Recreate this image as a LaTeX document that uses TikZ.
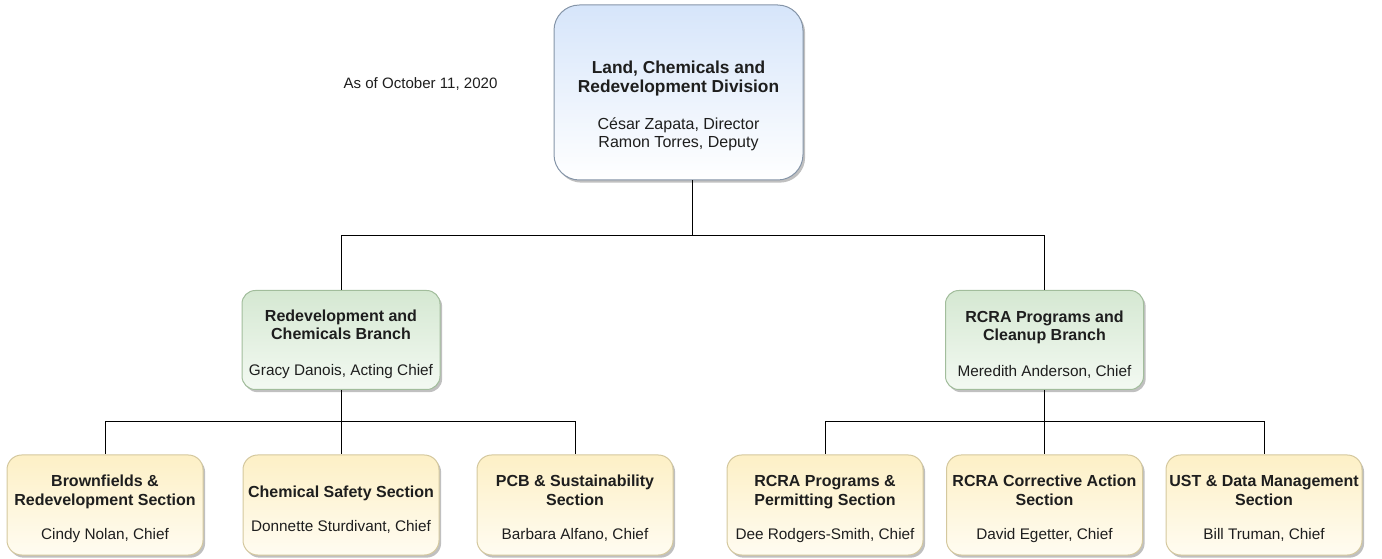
\documentclass[tikz,border=0pt]{standalone}
\usepackage{fontspec}
\setmainfont{Liberation Sans}
\usetikzlibrary{shadows}
\definecolor{divtop}{HTML}{D6E5FA}
\definecolor{divbot}{HTML}{FFFFFF}
\definecolor{divline}{HTML}{8595A8}
\definecolor{brtop}{HTML}{D5E8D2}
\definecolor{brbot}{HTML}{F3F9F2}
\definecolor{brline}{HTML}{A2BD9C}
\definecolor{sctop}{HTML}{FDF0C6}
\definecolor{scbot}{HTML}{FFFCF1}
\definecolor{scline}{HTML}{D4C89E}
\definecolor{ink}{HTML}{1E1E1E}
\newcommand{\divtitle}{\fontsize{13}{14.25}\selectfont\bfseries}
\newcommand{\divname}{\fontsize{12}{14.25}\selectfont\mdseries}
\newcommand{\unittitle}{\fontsize{12}{14.25}\selectfont\bfseries}
\newcommand{\unitname}{\fontsize{11.5}{14.25}\selectfont\mdseries}
\begin{document}
\begin{tikzpicture}[x=0.75pt,y=-0.75pt,
  card/.style={draw, line width=0.75pt, align=center, inner sep=0pt, text=ink,
    font=\fontsize{12}{14.25}\selectfont,
    drop shadow={shadow xshift=1.6pt, shadow yshift=-2pt, fill=black!45, opacity=0.55}},
  division/.style={card, rounded corners=19pt, draw=divline, top color=divtop, bottom color=divbot,
    minimum width=186.75pt, minimum height=131.25pt},
  branch/.style={card, rounded corners=10pt, draw=brline, top color=brtop, bottom color=brbot,
    minimum width=148.5pt, minimum height=74.25pt},
  section/.style={card, rounded corners=11pt, draw=scline, top color=sctop, bottom color=scbot,
    minimum width=147pt, minimum height=75pt},
  link/.style={draw=black, line width=0.75pt},
]
\useasboundingbox (0,0) rectangle (1382,559);

% date stamp
\node[font=\fontsize{11.3}{13}\selectfont, text=ink] (date) at (420.5,84) {As of October 11, 2020};

% division
\node[division] (div) at (678.5,92.5) {\divtitle\rule{0pt}{30pt}Land, Chemicals and\\\divtitle Redevelopment Division\\[13.5pt]\divname César Zapata, Director\\[-0.75pt]\divname Ramon Torres, Deputy};

% branches
\node[branch] (rcb) at (341,340) {\unittitle\rule{0pt}{15pt}Redevelopment and\\[-0.75pt]\unittitle Chemicals Branch\\[12.75pt]\unitname Gracy Danois, Acting Chief};
\node[branch] (rpc) at (1044.5,340) {\unittitle\rule{0pt}{15pt}RCRA Programs and\\[-0.75pt]\unittitle Cleanup Branch\\[12.75pt]\unitname Meredith Anderson, Chief};

% sections
\node[section] (s1) at (105,505) {\unittitle\rule{0pt}{14pt}Brownfields \&\\\unittitle Redevelopment Section\\[11.25pt]\unitname Cindy Nolan, Chief};
\node[section] (s2) at (341,505) {\unittitle\rule{0pt}{15pt}Chemical Safety Section\\[11.25pt]\unitname Donnette Sturdivant, Chief};
\node[section] (s3) at (575,505) {\unittitle\rule{0pt}{14pt}PCB \& Sustainability\\\unittitle Section\\[11.25pt]\unitname Barbara Alfano, Chief};
\node[section] (s4) at (825,505) {\unittitle\rule{0pt}{14pt}RCRA Programs \&\\\unittitle Permitting Section\\[11.25pt]\unitname Dee Rodgers-Smith, Chief};
\node[section] (s5) at (1044.5,505) {\unittitle\rule{0pt}{14pt}RCRA Corrective Action\\\unittitle Section\\[11.25pt]\unitname David Egetter, Chief};
\node[section] (s6) at (1264,505) {\unittitle\rule{0pt}{14pt}UST \& Data Management\\\unittitle Section\\[11.25pt]\unitname Bill Truman, Chief};

% junction points of the tree
\coordinate (jtop) at (692.5,236);
\coordinate (jleft) at (341,422);
\coordinate (jright) at (1044.5,422);

\draw[link] (div.south -| jtop) -- (jtop);
\draw[link] (jtop) -| (rcb.north);
\draw[link] (jtop) -| (rpc.north);

\draw[link] (rcb.south) -- (jleft);
\draw[link] (jleft) -| (s1.north);
\draw[link] (jleft) -- (s2.north);
\draw[link] (jleft) -| (s3.north);

\draw[link] (rpc.south) -- (jright);
\draw[link] (jright) -| (s4.north);
\draw[link] (jright) -- (s5.north);
\draw[link] (jright) -| (s6.north);
\end{tikzpicture}
\end{document}
